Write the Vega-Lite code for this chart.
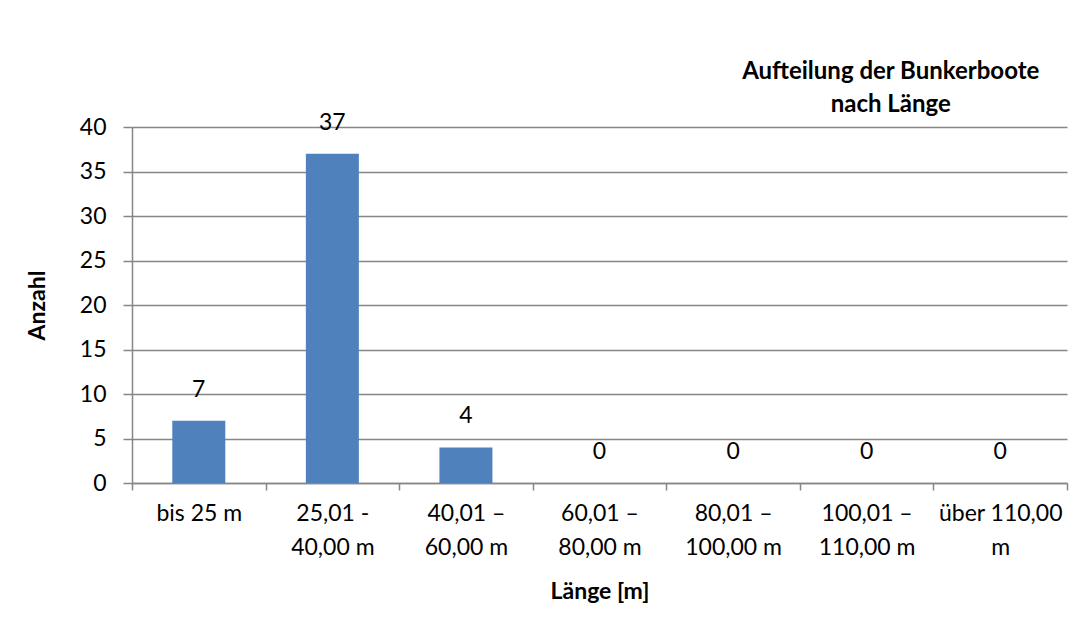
{
  "$schema": "https://vega.github.io/schema/vega-lite/v6.json",
  "width": 935,
  "height": 356,
  "autosize": {"type": "none"},
  "padding": {"left": 132, "top": 127, "right": 24, "bottom": 152},
  "background": "white",
  "title": {
    "text": ["Aufteilung der Bunkerboote", "nach Länge"],
    "anchor": "end",
    "align": "center",
    "dx": -177,
    "offset": -5,
    "font": "Lato",
    "fontSize": 24,
    "fontWeight": "bold",
    "color": "black",
    "lineHeight": 33
  },
  "data": {
    "values": [
      {"Laenge": "bis 25 m", "Anzahl": 7},
      {"Laenge": "25,01 -|40,00 m", "Anzahl": 37},
      {"Laenge": "40,01 –|60,00 m", "Anzahl": 4},
      {"Laenge": "60,01 –|80,00 m", "Anzahl": 0},
      {"Laenge": "80,01 –|100,00 m", "Anzahl": 0},
      {"Laenge": "100,01 –|110,00 m", "Anzahl": 0},
      {"Laenge": "über 110,00|m", "Anzahl": 0}
    ]
  },
  "encoding": {
    "x": {
      "field": "Laenge",
      "type": "nominal",
      "sort": null,
      "scale": {"paddingInner": 0, "paddingOuter": 0},
      "axis": {
        "title": "Länge [m]",
        "labelAngle": 0,
        "labelExpr": "split(datum.label, '|')",
        "labelLineHeight": 34,
        "labelPadding": 12,
        "labelBaseline": "top",
        "tickBand": "extent",
        "tickSize": 7,
        "titlePadding": 21
      }
    },
    "y": {
      "field": "Anzahl",
      "type": "quantitative",
      "scale": {"domain": [0, 40], "nice": false},
      "axis": {
        "title": "Anzahl",
        "values": [0, 5, 10, 15, 20, 25, 30, 35, 40],
        "tickSize": 9,
        "labelPadding": 17,
        "titlePadding": 30,
        "grid": true
      }
    }
  },
  "layer": [
    {
      "mark": {"type": "bar", "size": 53, "color": "#4F81BD"}
    },
    {
      "mark": {"type": "text", "baseline": "middle", "dy": -31, "font": "Lato", "fontSize": 23, "color": "black"},
      "encoding": {"text": {"field": "Anzahl", "type": "quantitative"}}
    }
  ],
  "config": {
    "view": {"stroke": null},
    "axis": {
      "labelFont": "Lato",
      "labelFontSize": 23,
      "labelColor": "black",
      "titleFont": "Lato",
      "titleFontSize": 23,
      "titleFontWeight": "bold",
      "titleColor": "black",
      "domainColor": "#868686",
      "tickColor": "#868686",
      "gridColor": "#868686",
      "domainWidth": 1.5,
      "tickWidth": 1.5,
      "gridWidth": 1.5
    }
  }
}
